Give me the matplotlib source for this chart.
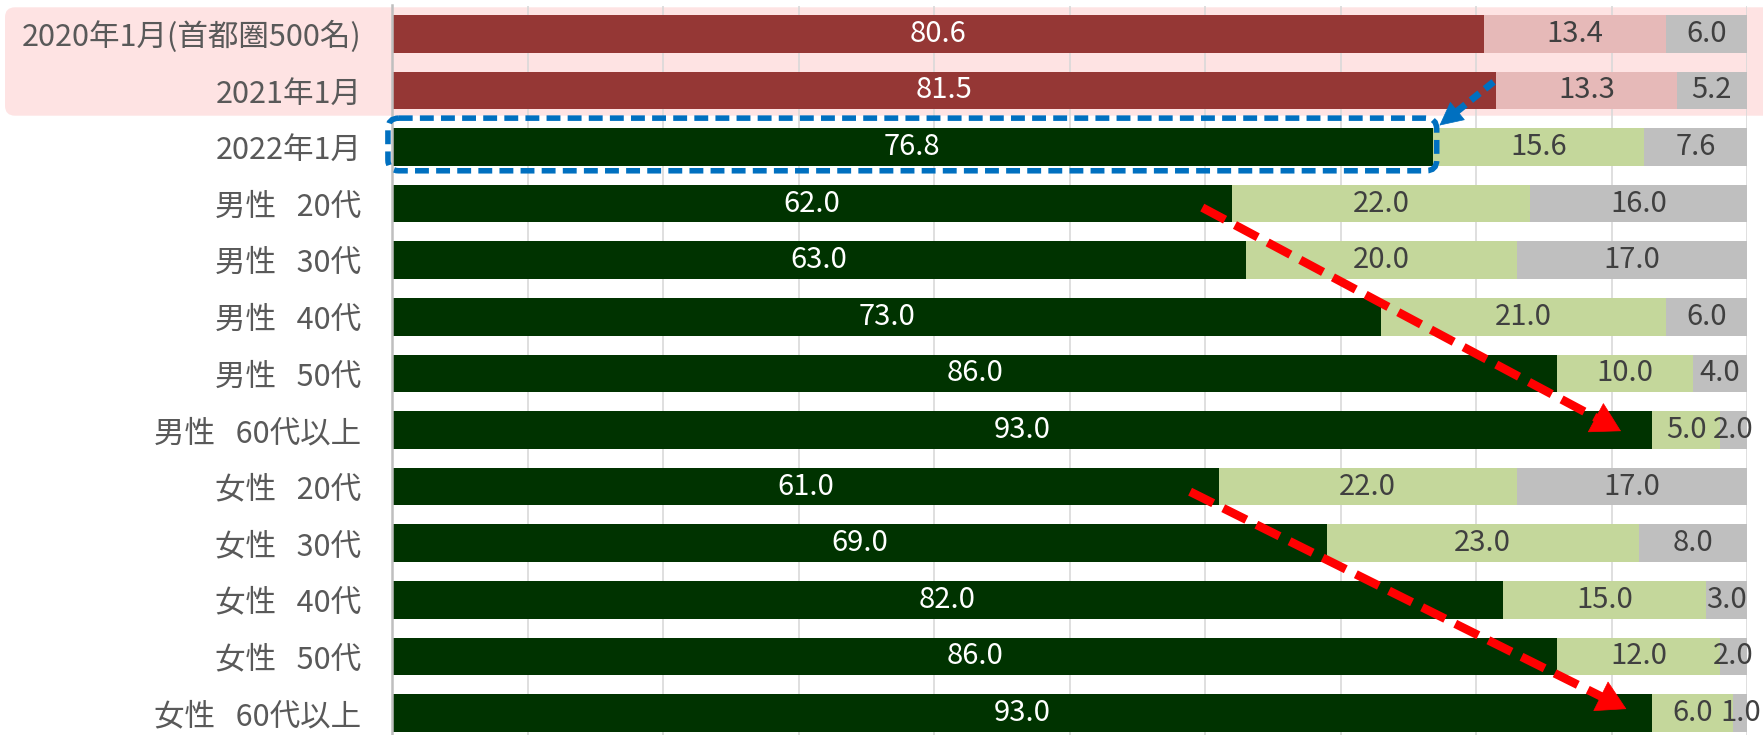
import matplotlib
matplotlib.use("Agg")
import matplotlib.pyplot as plt
from matplotlib.patches import FancyBboxPatch

plt.rcParams['font.family'] = ['Noto Sans CJK JP', 'DejaVu Sans']

gap = "   "
labels = ["2020年1月(首都圏500名)", "2021年1月", "2022年1月",
          "男性" + gap + "20代", "男性" + gap + "30代", "男性" + gap + "40代",
          "男性" + gap + "50代", "男性" + gap + "60代以上",
          "女性" + gap + "20代", "女性" + gap + "30代", "女性" + gap + "40代",
          "女性" + gap + "50代", "女性" + gap + "60代以上"]
first = [80.6, 81.5, 76.8, 62.0, 63.0, 73.0, 86.0, 93.0, 61.0, 69.0, 82.0, 86.0, 93.0]
second = [13.4, 13.3, 15.6, 22.0, 20.0, 21.0, 10.0, 5.0, 22.0, 23.0, 15.0, 12.0, 6.0]
third = [6.0, 5.2, 7.6, 16.0, 17.0, 6.0, 4.0, 2.0, 17.0, 8.0, 3.0, 2.0, 1.0]

# first two rows are the earlier surveys, drawn in reds
old_rows = 2
dark = ["#953735"] * old_rows + ["#003300"] * (len(labels) - old_rows)
light = ["#E6B9B8"] * old_rows + ["#C4D79B"] * (len(labels) - old_rows)
grey = "#BFBFBF"

W, H = 1763, 735
fig = plt.figure(figsize=(W / 100, H / 100), dpi=100)
ax_l, ax_w = 392, 1355
ax_top, pitch = 5.5, 56.6
ax_h = pitch * len(labels)
ax = fig.add_axes([ax_l / W, (H - ax_top - ax_h) / H, ax_w / W, ax_h / H])
ax.set_facecolor("none")

# pink band behind the older survey rows
fig.patches.append(FancyBboxPatch((0.05, (H - 115.7) / 100), 18, 1.084,
                                  boxstyle="round,pad=0,rounding_size=0.1",
                                  transform=fig.dpi_scale_trans, facecolor="#FEE3E3",
                                  edgecolor="none", zorder=-5))

y = list(range(len(labels)))
bh = 0.663
left2 = [a for a in first]
left3 = [a + b for a, b in zip(first, second)]
ax.barh(y, first, height=bh, color=dark, zorder=2)
ax.barh(y, second, left=left2, height=bh, color=light, zorder=2)
ax.barh(y, third, left=left3, height=bh, color=grey, zorder=2)

fs = 21
for i in y:
    ax.text(first[i] / 2, i, f"{first[i]:.1f}", ha="center", va="center",
            color="white", fontsize=fs, zorder=4)
    ax.text(left2[i] + second[i] / 2, i, f"{second[i]:.1f}", ha="center", va="center",
            color="#404040", fontsize=fs, zorder=4)
    ax.text(left3[i] + third[i] / 2, i, f"{third[i]:.1f}", ha="center", va="center",
            color="#404040", fontsize=fs, zorder=4)

ax.set_xlim(0, 100)
ax.set_ylim(len(labels) - 0.5, -0.5)
ax.set_xticks(range(10, 101, 10))
ax.set_xticklabels([])
ax.set_yticks(y)
ax.set_yticklabels(labels, fontsize=22, color="#595959")
ax.tick_params(length=0, pad=22)
ax.grid(axis="x", color="#D9D9D9", lw=1.2, zorder=0)
ax.set_axisbelow(True)
for s in ["top", "right", "bottom"]:
    ax.spines[s].set_visible(False)
ax.spines["left"].set_color("#BFBFBF")
ax.spines["left"].set_linewidth(1.8)
ax.spines["left"].set_zorder(3)

# dashed frame around the 2022 total
px_x = ax_w / 100
px_y = pitch
frame = FancyBboxPatch((-0.3, 1.49), 77.4, 0.93,
                       boxstyle="round,pad=0,rounding_size=0.8",
                       mutation_aspect=px_x / px_y, transform=ax.transData,
                       facecolor="none", edgecolor="#0070C0", lw=4.0,
                       linestyle=(0, (2.5, 1.3)), zorder=5, clip_on=False)
ax.add_patch(frame)


def dashed_arrow(start, end, color, lw, dash, head_len, head_w, frac):
    # dashed shaft stops just inside the head
    sx, sy = start
    ex, ey = end
    bx, by = ex - (ex - sx) * frac, ey - (ey - sy) * frac
    ax.plot([sx, bx], [sy, by], color=color, lw=lw, linestyle=dash,
            dash_capstyle="butt", solid_capstyle="butt", zorder=6, clip_on=False)
    ax.annotate("", xy=end, xytext=(bx, by),
                arrowprops=dict(arrowstyle=f"-|>,head_length={head_len / 20},head_width={head_w / 20}",
                                mutation_scale=20, facecolor=color, edgecolor=color, linewidth=0.5,
                                shrinkA=0, shrinkB=0),
                zorder=7, annotation_clip=False)


dashed_arrow((81.3, 0.85), (77.3, 1.62), "#0070C0", 5.0, (0, (1.6, 1.0)), 16, 8, 0.25)
dashed_arrow((59.8, 3.07), (90.7, 7.02), "#FF0000", 6.2, (0, (3.0, 1.3)), 20, 11.5, 0.045)
dashed_arrow((58.9, 8.09), (91.1, 11.93), "#FF0000", 6.2, (0, (3.0, 1.3)), 20, 11.5, 0.045)

fig.savefig("out.png", dpi=100)
